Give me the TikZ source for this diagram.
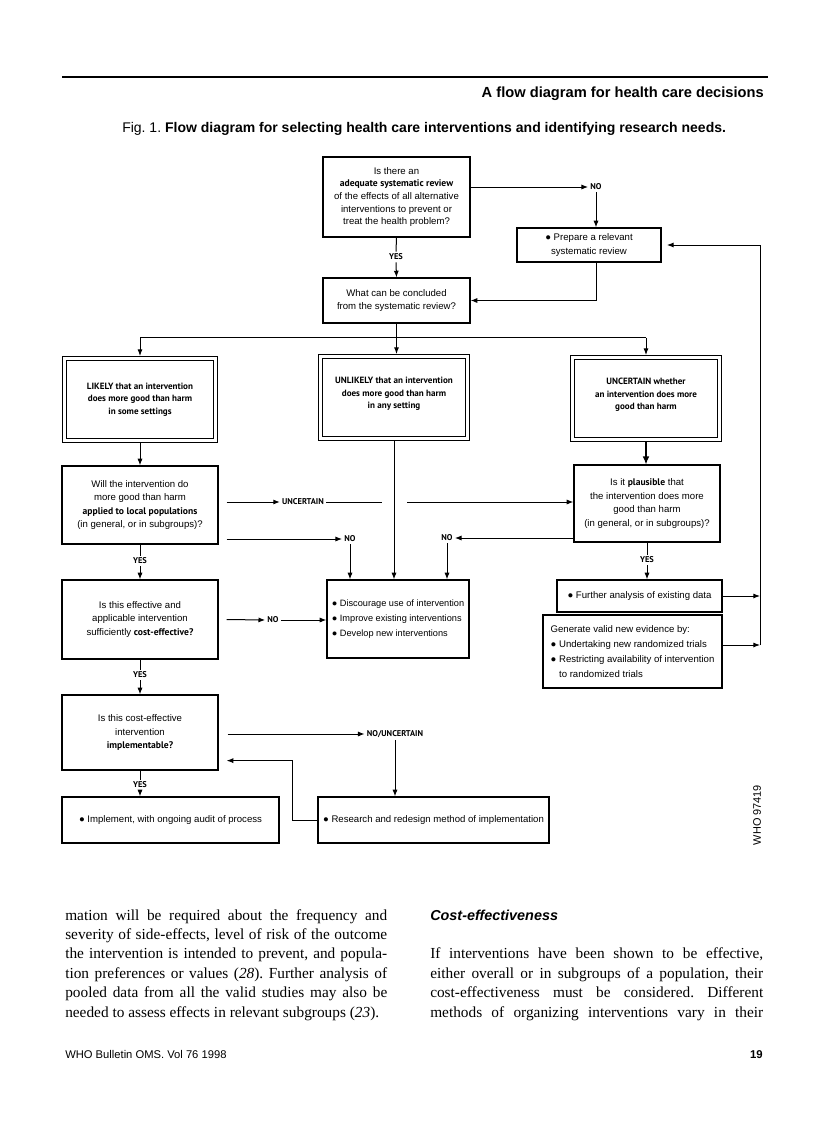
\documentclass[tikz,border=0pt]{standalone}
\usepackage{fontspec}
\setmainfont{Liberation Serif}
\setsansfont{Liberation Sans}
\newfontfamily\ptsans{PT Sans}
\usetikzlibrary{positioning, arrows.meta, calc}

\newcommand{\boxfont}{\sffamily\fontsize{7.2}{10.2}\selectfont}
\newcommand{\likelyfont}{\ptsans\bfseries\fontsize{6.8}{9.4}\selectfont}
\newcommand{\labfont}{\ptsans\bfseries\fontsize{6.3}{7}\selectfont}
\newcommand{\keyw}[1]{{\ptsans\bfseries #1}}

\begin{document}
\frenchspacing
\begin{tikzpicture}[
  x=0.75pt, y=-0.75pt,
  wh/.style 2 args={minimum width=#1*0.75pt, minimum height=#2*0.75pt},
  box/.style={rectangle, draw=black, line width=0.9pt, align=center,
              inner sep=1pt, font=\boxfont},
  dbox/.style={rectangle, draw=black, line width=0.8pt, double=white,
               double distance=2.2pt, outer sep=1.9pt, align=center,
               inner sep=1pt, font=\likelyfont},
  lab/.style={inner sep=1.5pt, font=\labfont},
  arr/.style={-{Latex[length=5pt, width=3.8pt]}, line width=0.75pt},
  ln/.style={line width=0.75pt},
  body/.style={inner sep=0pt, align=justify,
               font=\rmfamily\fontsize{11.5}{14.55}\selectfont}
]
\useasboundingbox (0,0) rectangle (816,1122);

% -------- page head --------
\draw[line width=1.3pt] (62,77) -- (768,77);
\node[anchor=base east, inner sep=0pt, font=\sffamily\bfseries\fontsize{11}{13}\selectfont]
  (runhead) at (764,97) {A flow diagram for health care decisions};
\node[anchor=base west, inner sep=0pt, font=\sffamily\fontsize{10.5}{12}\selectfont]
  (figcap) at (122,132) {Fig. 1. \textbf{Flow diagram for selecting health care interventions and identifying research needs.}};

% -------- review stage --------
\node[box, wh={147}{80}, font=\sffamily\fontsize{7.2}{9.5}\selectfont] (q1) at (396.5,197)
  {Is there an\\ \keyw{adequate systematic review}\\ of the effects of all alternative\\ interventions to prevent or\\ treat the health problem?};
\node[box, wh={144}{34}] (prep) at (589,245) {● Prepare a relevant\\ systematic review};
\node[box, wh={147}{45}] (q2) at (396.5,300.5) {What can be concluded\\ from the systematic review?};

\node[lab] (no1) at (596,187) {NO};
\node[lab] (yes1) at (396,257) {YES};

% -------- three conclusions --------
\node[dbox, wh={151}{82}] (likely) at (140,399.5) {LIKELY that an intervention\\ does more good than harm\\ in some settings};
\node[dbox, wh={147}{82}] (unlikely) at (394,397.5) {UNLIKELY that an intervention\\ does more good than harm\\ in any setting\\[-2.5pt]};
\node[dbox, wh={147}{82}] (uncert) at (646,398.5) {UNCERTAIN whether\\ an intervention does more\\ good than harm\\[-2.5pt]};

% -------- questions and actions --------
\node[box, wh={156}{78}] (q3) at (140,505) {Will the intervention do\\ more good than harm\\ \keyw{applied to local populations}\\ (in general, or in subgroups)?};
\node[box, wh={146}{77}] (q4) at (647,503.5) {Is it \keyw{plausible} that\\ the intervention does more\\ good than harm\\ (in general, or in subgroups)?};
\node[box, wh={156}{79}] (q5) at (140,619.5) {Is this effective and\\ applicable intervention\\ sufficiently \keyw{cost-effective?}};
\node[box, wh={142}{78}, align=left, font=\sffamily\fontsize{6.9}{11.2}\selectfont] (disc) at (398,619)
  {● Discourage use of intervention\\ ● Improve existing interventions\\ ● Develop new interventions};
\node[box, wh={165}{32}] (further) at (639.5,596) {● Further analysis of existing data};
\node[box, wh={179}{73}, align=left, font=\sffamily\fontsize{7.2}{11.4}\selectfont] (gen) at (632.5,651.5)
  {Generate valid new evidence by:\\ ● Undertaking new randomized trials\\ ● Restricting availability of intervention\\ \phantom{● }to randomized trials};
\node[box, wh={156}{75}] (q6) at (140,732.5) {Is this cost-effective\\ intervention\\ \keyw{implementable?}};
\node[box, wh={217}{46}] (impl) at (170.5,820) {● Implement, with ongoing audit of process};
\node[box, wh={231}{46}] (redesign) at (433.5,820) {● Research and redesign method of implementation};

\node[lab] (unc) at (303,502) {UNCERTAIN};
\node[lab] (no2) at (350,539) {NO};
\node[lab] (no3) at (447,538) {NO};
\node[lab] (yes2) at (140,561) {YES};
\node[lab] (yes3) at (647,560) {YES};
\node[lab] (no4) at (273,620) {NO};
\node[lab] (yes4) at (140,675) {YES};
\node[lab] (nounc) at (395,734) {NO/UNCERTAIN};
\node[lab] (yes5) at (140,785) {YES};

\node[rotate=90, inner sep=0pt, font=\sffamily\fontsize{8.2}{9}\selectfont] (whono) at (757,815) {WHO 97419};

% top connectors
\draw[arr] (q1.east |- no1) -- (no1.west);
\draw[arr] (no1.south) -- (no1.south |- prep.north);
\draw[ln] (q1.south) -- (yes1.north);
\draw[arr] (yes1.south) -- (q2.north);
\draw[arr] (no1.south |- prep.south) |- (q2.east);

% fork to the three conclusions
\draw[ln] (q2.south) -- ++(0,14) coordinate (fork);
\draw[ln] (fork -| likely.north) -- (fork -| uncert.north);
\draw[arr] (fork -| likely.north) -- (likely.north);
\draw[arr] (fork) -- (fork |- unlikely.north);
\draw[arr] (fork -| uncert.north) -- (uncert.north);

% middle connectors
\draw[arr] (likely.south) -- (q3.north);
\draw[arr] ($(q3.east |- unc)+(8,0)$) -- (unc.west);
\draw[ln] (unc.east) -- ($(unlikely.south |- unc)+(-12,0)$);
\draw[arr] ($(unlikely.south |- unc)+(13,0)$) -- (q4.west |- unc);
\draw[arr] ($(q3.east |- no2)+(8,0)$) -- (no2.west);
\draw[arr] (no2.south) -- (no2.south |- disc.north);
\draw[arr] (unlikely.south) -- (unlikely.south |- disc.north);
\draw[arr] (q4.west |- no3) -- (no3.east);
\draw[arr] (no3.south) -- (no3.south |- disc.north);
\draw[-{Latex[length=6pt, width=5pt]}, line width=0.9pt] (uncert.south) -- (uncert.south |- q4.north);
\draw[ln] (q4.south) -- (yes3.north);
\draw[arr] (yes3.south) -- (yes3.south |- further.north);

% back to a new review
\coordinate (rail) at (760,645);
\draw[arr] (further.east) -- (further.east -| rail);
\draw[arr] (gen.east |- rail) -- (rail);
\draw[arr, shorten >=4pt] (rail) -- (rail |- prep.east) -- (prep.east);

% left column
\draw[ln] (q3.south) -- (yes2.north);
\draw[arr] (yes2.south) -- (q5.north);
\draw[arr] ($(q5.east)+(8,0)$) -- (no4.west);
\draw[arr] (no4.east) -- (disc.west |- no4);
\draw[ln] (q5.south) -- (yes4.north);
\draw[arr] (yes4.south) -- (q6.north);
\draw[arr] ($(q6.east |- nounc)+(9,0)$) -- (nounc.west);
\draw[arr] (nounc.south) -- (nounc.south |- redesign.north);
\draw[arr] (redesign.west) -- ++(-25,0) |- ($(q6.south east)+(8,-10)$);
\draw[ln] (q6.south) -- (yes5.north);
\draw[arr] (yes5.south) -- (yes5.south |- impl.north);

% -------- body text --------
\node[body, anchor=base west, text width=241.5pt] (colleft) at (65,920)
  {mation will be required about the frequency and\linebreak
   severity of side-effects, level of risk of the outcome\linebreak
   the intervention is intended to prevent, and popula-\linebreak
   tion preferences or values (\textit{28}). Further analysis of\linebreak
   pooled data from all the valid studies may also be\linebreak
   needed to assess effects in relevant subgroups (\textit{23}).};
\node[anchor=base west, inner sep=0pt, font=\sffamily\bfseries\itshape\fontsize{10.8}{13}\selectfont]
  (costhead) at (430,920) {Cost-effectiveness};
\node[body, anchor=base west, text width=249.75pt] (colright) at (430,958.8)
  {If interventions have been shown to be effective,\linebreak
   either overall or in subgroups of a population, their\linebreak
   cost-effectiveness must be considered. Different\linebreak
   methods of organizing interventions vary in their\linebreak\null};

% -------- page foot --------
\node[anchor=base west, inner sep=0pt, font=\sffamily\fontsize{8.4}{9}\selectfont]
  (foot) at (65,1058) {WHO Bulletin OMS. Vol 76 1998};
\node[anchor=base east, inner sep=0pt, font=\sffamily\bfseries\fontsize{8.5}{9}\selectfont]
  (pageno) at (763,1058) {19};
\end{tikzpicture}
\end{document}
